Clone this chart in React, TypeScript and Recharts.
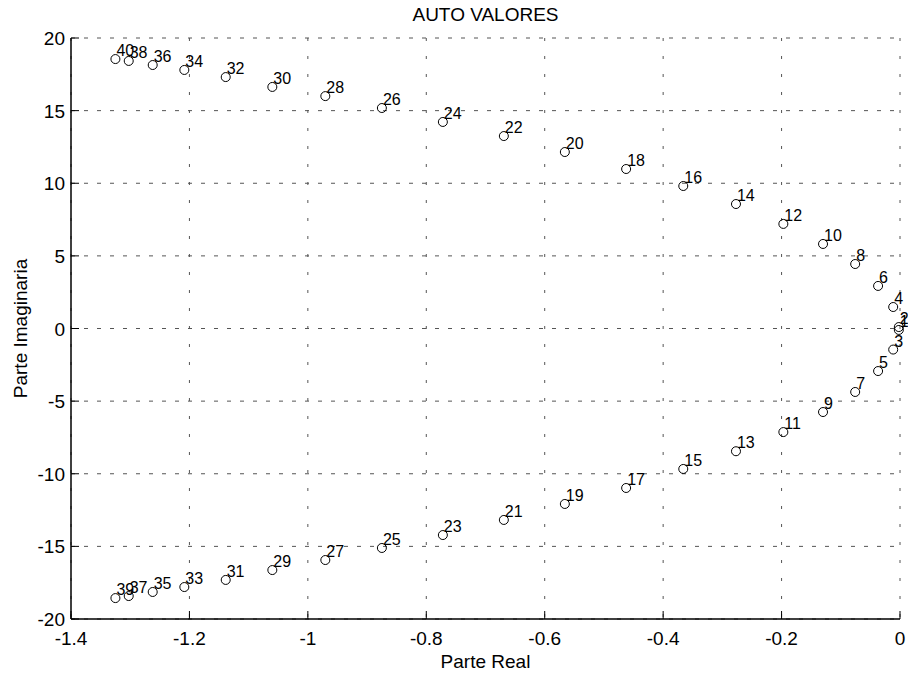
import React from 'react';
import { ScatterChart, Scatter, XAxis, YAxis, CartesianGrid } from 'recharts';

// eigenvalues, numbered like the labels (odd = lower half, even = upper half)
const EIG_N = [
    1, 2, 3, 4, 5, 6, 7, 8, 9, 10,
    11, 12, 13, 14, 15, 16, 17, 18, 19, 20,
    21, 22, 23, 24, 25, 26, 27, 28, 29, 30,
    31, 32, 33, 34, 35, 36, 37, 38, 39, 40,
];
const EIG_RE = [
    -0.002, -0.002, -0.0115, -0.0115, -0.037, -0.037, -0.0757, -0.0757, -0.13, -0.13,
    -0.197, -0.197, -0.277, -0.277, -0.366, -0.366, -0.4625, -0.4625, -0.566, -0.566,
    -0.669, -0.669, -0.772, -0.772, -0.875, -0.875, -0.9705, -0.9705, -1.06, -1.06,
    -1.1387, -1.1387, -1.2086, -1.2086, -1.262, -1.262, -1.3025, -1.3025, -1.325, -1.325,
];
const EIG_IM = [
    -0.1, 0.1, -1.45, 1.48, -2.93, 2.93, -4.37, 4.44, -5.75, 5.82,
    -7.13, 7.2, -8.45, 8.57, -9.67, 9.81, -10.98, 10.98, -12.08, 12.15,
    -13.18, 13.25, -14.22, 14.22, -15.11, 15.18, -15.94, 16.0, -16.63, 16.63,
    -17.31, 17.31, -17.8, 17.8, -18.14, 18.14, -18.42, 18.42, -18.56, 18.55,
];

const X_TICKS = [-1.4, -1.2, -1, -0.8, -0.6, -0.4, -0.2, 0];
const Y_TICKS = [-20, -15, -10, -5, 0, 5, 10, 15, 20];

const FONT = '"Liberation Sans", Arial, Helvetica, sans-serif';
const INK = '#000';
const GRID = '#555';
const TICK_LEN = 8;

const points = EIG_N.map((n, i) => ({ n, re: EIG_RE[i], im: EIG_IM[i] }));

const fmt = (v: number) => String(Math.round(v * 10) / 10);

// matlab-style ticks: drawn inward, label outside
const BottomTick = ({ x, y, payload }: any) => (
    <g>
        <line x1={x} x2={x} y1={y} y2={y - TICK_LEN} stroke={INK} />
        <text x={x} y={y + 26} textAnchor="middle" fontSize={19} fontFamily={FONT} fill={INK}>{fmt(payload.value)}</text>
    </g>
);
const LeftTick = ({ x, y, payload }: any) => (
    <g>
        <line x1={x} x2={x + TICK_LEN} y1={y} y2={y} stroke={INK} />
        <text x={x - 6} y={y + 7} textAnchor="end" fontSize={19} fontFamily={FONT} fill={INK}>{fmt(payload.value)}</text>
    </g>
);
const TopTick = ({ x, y }: any) => <line x1={x} x2={x} y1={y} y2={y + TICK_LEN} stroke={INK} />;
const RightTick = ({ x, y }: any) => <line x1={x} x2={x - TICK_LEN} y1={y} y2={y} stroke={INK} />;

const EigMark = (props: any) => {
    const { cx, cy, payload } = props;
    return (
        <g>
            <circle cx={cx} cy={cy} r={4.5} fill="none" stroke={INK} strokeWidth={1} />
            <text x={cx + 1} y={cy - 3} fontSize={16} fontFamily={FONT} fill={INK}>{payload.n}</text>
        </g>
    );
};

export default function App() {
    return (
        <div style={{ position: 'absolute', left: 0, top: 0, width: 908, height: 679, background: '#fff', fontFamily: FONT }}>
            <div style={{ position: 'absolute', left: 71, top: 5, width: 829, textAlign: 'center', fontSize: 19, lineHeight: '19px', color: INK }}>
                AUTO VALORES
            </div>
            <ScatterChart width={908} height={679} margin={{ top: 38, right: 8, bottom: 0, left: 0 }}>
                <CartesianGrid vertical={false} stroke={GRID} strokeDasharray="4 9" />
                <CartesianGrid horizontal={false} stroke={GRID} strokeDasharray="3 15" />
                <XAxis type="number" dataKey="re" domain={[-1.4, 0]} ticks={X_TICKS} interval={0} height={60}
                    axisLine={{ stroke: INK, strokeWidth: 1.5 }} tickLine={false} tickSize={0} tickMargin={0} tick={<BottomTick />}
                    label={{ value: 'Parte Real', position: 'insideBottom', offset: 11, fill: INK, fontSize: 19, fontFamily: FONT }} />
                <YAxis type="number" dataKey="im" domain={[-20, 20]} ticks={Y_TICKS} interval={0} width={71}
                    axisLine={{ stroke: INK, strokeWidth: 1.5 }} tickLine={false} tickSize={0} tickMargin={0} tick={<LeftTick />}
                    label={{ value: 'Parte Imaginaria', angle: -90, position: 'insideLeft', offset: 20, fill: INK, fontSize: 19, fontFamily: FONT, style: { textAnchor: 'middle' } }} />
                <XAxis xAxisId="top" orientation="top" type="number" domain={[-1.4, 0]} ticks={X_TICKS} interval={0} height={0}
                    allowDataOverflow axisLine={{ stroke: INK, strokeWidth: 1.5 }} tickLine={false} tickSize={0} tickMargin={0} tick={<TopTick />} />
                <YAxis yAxisId="right" orientation="right" type="number" domain={[-20, 20]} ticks={Y_TICKS} interval={0} width={0}
                    allowDataOverflow axisLine={{ stroke: INK, strokeWidth: 1.5 }} tickLine={false} tickSize={0} tickMargin={0} tick={<RightTick />} />
                <Scatter data={points} shape={<EigMark />} isAnimationActive={false} />
            </ScatterChart>
        </div>
    );
}
